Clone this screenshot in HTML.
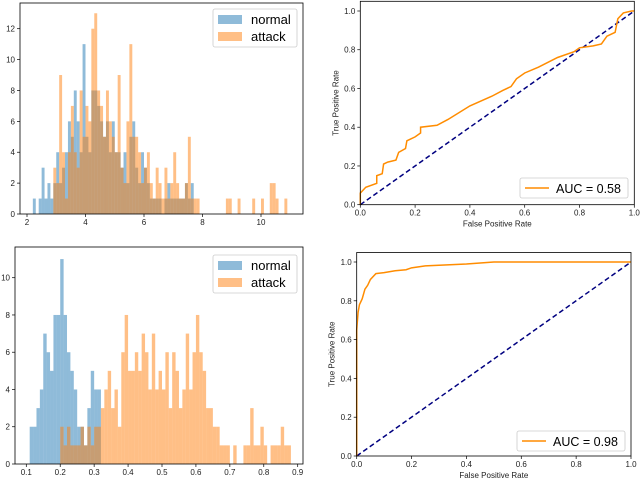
<!DOCTYPE html>
<html><head><meta charset="utf-8"><style>
body{margin:0;background:#fff;}
svg{display:block;font-family:"Liberation Sans","DejaVu Sans",sans-serif;}
</style></head><body>
<svg id="fig" width="640" height="480" viewBox="0 0 640 480" xmlns="http://www.w3.org/2000/svg"></svg>
<script>
// ---- data ----
const h1AttackStart = 2.9, h1Step = 0.1;
const h1Attack = [3,2,9,4,1,4,7,4,3,8,5,7,6,12,13,8,7,5,8,6,5,4,9,3,2,6,11,5,5,4,2,3,4,2,1,3,2,1,3,1,2,4,2,1,1,2,5,1,1,1,0,0,0,0,0,0,0,0,0,1,1,0,0,1,0,0,0,0,1,0,0,1,0,0,2,2,1,0,0,1];
const h1NormalStart = 2.2;
const h1Normal = [1,0,1,3,1,2,1,2,4,2,3,4,6,5,8,6,4,11,5,4,8,8,7,6,5,6,4,6,4,4,3,4,2,5,6,3,2,4,3,2,1,1,1,1,0,1,2,1,1,1,1,1,2,1,2];
const h2NormalStart = 0.11, h2Step = 0.01;
const h2Normal = [2,2,3,4,7,6,5,8,8,11,8,6,5,4,2,2,1,3,5,4,4];
const h2AttackStart = 0.20;
const h2Attack = [2,1,2,1,1,1,2,1,2,1,2,2,3,4,5,3,4,2,6,8,5,5,6,5,7,6,4,7,4,5,4,6,3,6,5,3,4,7,4,6,8,6,5,3,3,2,2,1,1,1,0,1,0,0,1,1,3,1,1,2,1,0,1,1,1,2,1,1];
const h1XTicks = [2,4,6,8,10];
const h1YTicks = [0,2,4,6,8,10,12];
const h2XTicks = [0.1,0.2,0.3,0.4,0.5,0.6,0.7,0.8,0.9];
const h2YTicks = [0,2,4,6,8,10];
const rocTicks = [0,0.2,0.4,0.6,0.8,1.0];
const roc1Fpr = [0,0,0.02,0.06,0.06,0.08,0.085,0.1,0.13,0.14,0.165,0.17,0.2,0.22,0.22,0.28,0.32,0.4,0.48,0.52,0.55,0.57,0.6,0.65,0.72,0.78,0.8,0.85,0.88,0.9,0.93,0.94,0.96,0.99,1];
const roc1Tpr = [0,0.06,0.09,0.11,0.15,0.16,0.21,0.22,0.23,0.27,0.29,0.33,0.35,0.37,0.40,0.41,0.44,0.51,0.56,0.59,0.61,0.65,0.68,0.71,0.76,0.79,0.81,0.82,0.83,0.87,0.89,0.96,0.99,1,1];
const roc2Fpr = [0,0,0.005,0.01,0.02,0.03,0.04,0.05,0.07,0.1,0.14,0.18,0.2,0.25,0.4,0.5,1];
const roc2Tpr = [0,0.65,0.74,0.78,0.81,0.86,0.88,0.91,0.94,0.945,0.955,0.96,0.97,0.98,0.99,1,1];

const NS="http://www.w3.org/2000/svg";
const svg=document.getElementById('fig');
function el(tag,attrs,parent,txt){const e=document.createElementNS(NS,tag);for(const k in attrs)e.setAttribute(k,attrs[k]);if(txt!==undefined)e.textContent=txt;(parent||svg).appendChild(e);return e;}
function lin(d0,d1,r0,r1){return v=>r0+(v-d0)/(d1-d0)*(r1-r0);}

function axesFrame(g,L,T,R,B){
  const f=el('rect',{x:L,y:T,width:R-L,height:B-T,fill:'none',stroke:'#000','stroke-width':0.8},g);
  
  
}
function ticks(g,xs,ys,sx,sy,B,L,fmt){
  xs.forEach(v=>{const x=sx(v);el('line',{x1:x,y1:B,x2:x,y2:B+3,stroke:'#000','stroke-width':0.7},g);
    const t=el('text',{x:x,y:B+11,'font-size':8,'text-anchor':'middle',fill:'#222'},g,fmt(v));
    });
  ys.forEach(v=>{const y=sy(v);el('line',{x1:L-3,y1:y,x2:L,y2:y,stroke:'#000','stroke-width':0.7},g);
    const t=el('text',{x:L-5,y:y+3,'font-size':8,'text-anchor':'end',fill:'#222'},g,fmt(v));
    });
}
function bars(g,start,step,vals,sx,sy,color,name){
  vals.forEach((v,i)=>{if(!v)return;const x0=sx(start+i*step),x1=sx(start+(i+1)*step);
    const r=el('rect',{x:x0,y:sy(v),width:x1-x0,height:sy(0)-sy(v),fill:color},g);
    });
}
function histLegend(g,x,y){
  const box=el('rect',{x:x,y:y,width:84,height:38,rx:2,fill:'#fff','fill-opacity':0.8,stroke:'#ccc','stroke-width':0.8},g);
  
  el('rect',{x:x+5,y:y+6,width:24,height:9,fill:'rgba(31,119,180,0.5)'},g);
  const a=el('text',{x:x+38,y:y+15,'font-size':13,fill:'#000'},g,'normal');
  
  el('rect',{x:x+5,y:y+23,width:24,height:9,fill:'rgba(255,127,14,0.5)'},g);
  const b=el('text',{x:x+38,y:y+32,'font-size':13,fill:'#000'},g,'attack');
  
}
function hist(name,L,T,R,B,xd,yd,aS,aSt,aV,nS,nV,xt,yt,lx,ly,fmt){
  const g=el('g',{});
  const sx=lin(xd[0],xd[1],xd[2],xd[3]), sy=lin(0,yd[0],B,yd[1]);
  bars(g,nS,aSt,nV,sx,sy,'rgba(31,119,180,0.5)','bar-normal');
  bars(g,aS,aSt,aV,sx,sy,'rgba(255,127,14,0.5)','bar-attack');
  axesFrame(g,L,T,R,B);ticks(g,xt,yt,sx,sy,B,L,fmt);histLegend(g,lx,ly);
}
hist('histogram-top',20,3,303,214,[2,10,27,261],[12,28.7],h1AttackStart,h1Step,h1Attack,h1NormalStart,h1Normal,h1XTicks,h1YTicks,213,9,v=>String(v));
hist('histogram-bottom',15,247,303,464,[0.1,0.9,26.3,297.7],[10,277.7],h2AttackStart,h2Step,h2Attack,h2NormalStart,h2Normal,h2XTicks,h2YTicks,213,255,v=>Number.isInteger(v)?String(v):v.toFixed(1));

function roc(name,L,T,R,B,y1,fpr,tpr,label,lx,ly){
  const g=el('g',{});
  const sx=lin(0,1,L,R), sy=lin(0,1,B,y1);
  const d=el('line',{x1:sx(0),y1:sy(0),x2:sx(1),y2:sy(1),stroke:'#000080','stroke-width':1.5,'stroke-dasharray':'5,3'},g);
  
  const p=el('polyline',{points:fpr.map((f,i)=>sx(f)+','+sy(tpr[i])).join(' '),fill:'none',stroke:'#ff8c00','stroke-width':1.5},g);
  
  axesFrame(g,L,T,R,B);ticks(g,rocTicks,rocTicks,sx,sy,B,L,v=>v.toFixed(1));
  const xl=el('text',{x:(L+R)/2,y:B+22,'font-size':8,'text-anchor':'middle',fill:'#222'},g,'False Positive Rate');
  
  const yx=L-22,yy=(T+B)/2;
  const yl=el('text',{x:yx,y:yy,'font-size':8,'text-anchor':'middle',fill:'#222',transform:`rotate(-90 ${yx} ${yy})`},g,'True Positive Rate');
  
  const box=el('rect',{x:lx,y:ly,width:108,height:20,rx:2,fill:'#fff','fill-opacity':0.8,stroke:'#ccc','stroke-width':0.8},g);
  
  el('line',{x1:lx+5,y1:ly+10,x2:lx+29,y2:ly+10,stroke:'#ff8c00','stroke-width':1.5},g);
  const t=el('text',{x:lx+36,y:ly+15,'font-size':12.5,fill:'#000'},g,label);
  
}
roc('roc-top',360.3,1.3,634.3,204.7,11,roc1Fpr,roc1Tpr,'AUC = 0.58',520,178);
roc('roc-bottom',356.7,252.5,631,456,262,roc2Fpr,roc2Tpr,'AUC = 0.98',517,431);
</script>
</body></html>
